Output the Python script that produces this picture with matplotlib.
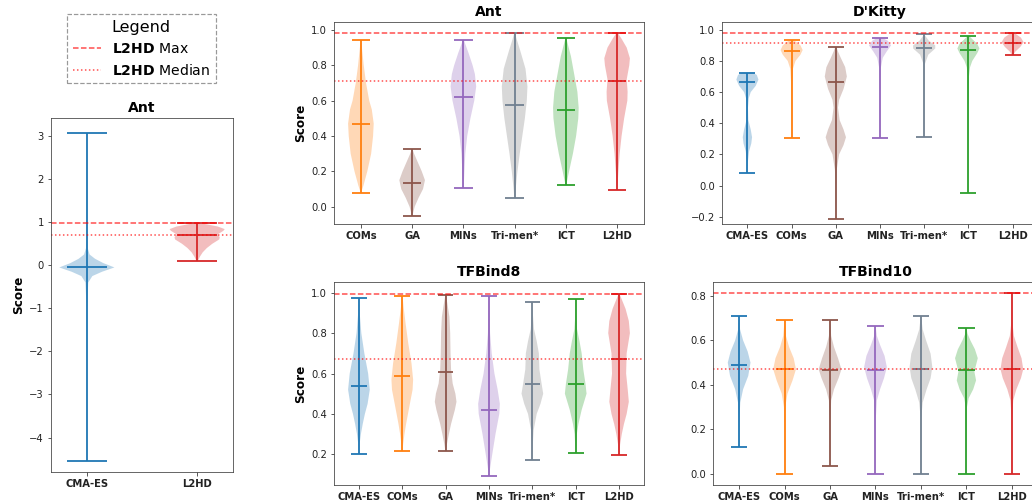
import matplotlib
matplotlib.use("Agg")
import matplotlib.pyplot as plt
from matplotlib.lines import Line2D
from matplotlib.ticker import MultipleLocator
import numpy as np


W, H = 1032, 503

colors = {"CMA-ES": "#1f77b4", "COMs": "#ff7f0e", "GA": "#8c564b", "MINs": "#9467bd",
          "Tri-men*": "#7f7f7f", "ICT": "#2ca02c", "L2HD": "#d62728"}
linecolors = dict(colors)
linecolors["Tri-men*"] = "#708090"

# --- data (min, max, median, density shape as (score, relative width) knots) ---
ant_methods = ["COMs", "GA", "MINs", "Tri-men*", "ICT", "L2HD"]
ant_min = [0.08, -0.05, 0.105, 0.05, 0.12, 0.095]
ant_max = [0.945, 0.325, 0.945, 0.985, 0.955, 0.985]
ant_med = [0.47, 0.135, 0.62, 0.575, 0.545, 0.71]
ant_shape = [
    [(0.08, 0.02), (0.12, 0.2), (0.2, 0.5), (0.3, 0.8), (0.4, 0.95), (0.47, 1.0), (0.55, 0.85),
     (0.6, 0.65), (0.7, 0.4), (0.8, 0.22), (0.9, 0.08), (0.945, 0.02)],
    [(-0.05, 0.02), (0.0, 0.2), (0.05, 0.5), (0.1, 0.85), (0.15, 1.0), (0.2, 0.75), (0.25, 0.45),
     (0.3, 0.15), (0.325, 0.03)],
    [(0.105, 0.02), (0.2, 0.08), (0.3, 0.15), (0.4, 0.3), (0.5, 0.55), (0.6, 0.85), (0.68, 1.0),
     (0.75, 0.9), (0.8, 0.72), (0.87, 0.4), (0.92, 0.15), (0.945, 0.03)],
    [(0.05, 0.02), (0.1, 0.08), (0.2, 0.22), (0.3, 0.4), (0.4, 0.6), (0.5, 0.8), (0.6, 0.95),
     (0.68, 1.0), (0.78, 0.85), (0.88, 0.45), (0.95, 0.15), (0.985, 0.02)],
    [(0.12, 0.02), (0.2, 0.25), (0.3, 0.55), (0.4, 0.8), (0.5, 0.97), (0.56, 1.0), (0.65, 0.9),
     (0.75, 0.65), (0.85, 0.4), (0.92, 0.15), (0.955, 0.03)],
    [(0.095, 0.02), (0.2, 0.1), (0.3, 0.2), (0.4, 0.35), (0.5, 0.55), (0.6, 0.8), (0.65, 0.82),
     (0.72, 0.75), (0.8, 0.95), (0.84, 1.0), (0.9, 0.75), (0.95, 0.35), (0.985, 0.03)],
]

# left panel: CMA-ES vs L2HD on Ant
antcma_methods = ["CMA-ES", "L2HD"]
antcma_min = [-4.55, 0.095]
antcma_max = [3.07, 0.985]
antcma_med = [-0.05, 0.71]
antcma_shape = [
    [(-4.55, 0.005), (-1.0, 0.01), (-0.4, 0.05), (-0.25, 0.2), (-0.15, 0.55), (-0.05, 1.0),
     (0.05, 0.6), (0.15, 0.3), (0.25, 0.1), (0.4, 0.03), (1.0, 0.01), (3.07, 0.005)],
    ant_shape[-1],
]

all_methods = ["CMA-ES", "COMs", "GA", "MINs", "Tri-men*", "ICT", "L2HD"]

dkitty_min = [0.08, 0.305, -0.215, 0.305, 0.31, -0.045, 0.835]
dkitty_max = [0.725, 0.935, 0.89, 0.945, 0.97, 0.96, 0.98]
dkitty_med = [0.665, 0.865, 0.665, 0.89, 0.885, 0.87, 0.915]
dkitty_shape = [
    [(0.08, 0.01), (0.15, 0.04), (0.22, 0.15), (0.27, 0.35), (0.31, 0.42), (0.36, 0.3), (0.42, 0.08),
     (0.5, 0.05), (0.56, 0.12), (0.6, 0.3), (0.64, 0.75), (0.68, 1.0), (0.71, 0.85), (0.725, 0.5)],
    [(0.305, 0.01), (0.5, 0.02), (0.65, 0.04), (0.75, 0.12), (0.8, 0.35), (0.84, 0.8), (0.87, 1.0),
     (0.9, 0.8), (0.92, 0.45), (0.935, 0.15)],
    [(-0.215, 0.01), (0.0, 0.03), (0.1, 0.08), (0.2, 0.3), (0.26, 0.7), (0.31, 0.92), (0.36, 0.7),
     (0.42, 0.35), (0.5, 0.2), (0.55, 0.3), (0.62, 0.7), (0.7, 1.0), (0.76, 0.85), (0.82, 0.45),
     (0.86, 0.2), (0.89, 0.05)],
    [(0.305, 0.01), (0.6, 0.02), (0.75, 0.06), (0.82, 0.25), (0.86, 0.6), (0.9, 1.0), (0.93, 0.7),
     (0.945, 0.3)],
    [(0.31, 0.01), (0.6, 0.02), (0.78, 0.06), (0.84, 0.35), (0.88, 0.95), (0.9, 0.95), (0.93, 0.4),
     (0.96, 0.1), (0.97, 0.03)],
    [(-0.045, 0.01), (0.5, 0.02), (0.7, 0.05), (0.76, 0.15), (0.8, 0.35), (0.85, 0.8), (0.88, 1.0),
     (0.91, 0.8), (0.94, 0.35), (0.96, 0.08)],
    [(0.835, 0.03), (0.86, 0.25), (0.89, 0.7), (0.92, 1.0), (0.95, 0.75), (0.97, 0.35), (0.98, 0.1)],
]

tf8_min = [0.2, 0.215, 0.215, 0.095, 0.17, 0.205, 0.195]
tf8_max = [0.975, 0.985, 0.99, 0.985, 0.955, 0.97, 0.995]
tf8_med = [0.54, 0.59, 0.605, 0.42, 0.55, 0.55, 0.67]
tf8_shape = [
    [(0.2, 0.02), (0.25, 0.06), (0.3, 0.18), (0.35, 0.35), (0.4, 0.55), (0.45, 0.8), (0.52, 1.0),
     (0.6, 0.85), (0.7, 0.5), (0.8, 0.22), (0.9, 0.07), (0.975, 0.02)],
    [(0.215, 0.02), (0.25, 0.08), (0.3, 0.2), (0.35, 0.35), (0.45, 0.7), (0.52, 0.95), (0.57, 1.0),
     (0.65, 0.85), (0.75, 0.55), (0.85, 0.3), (0.93, 0.12), (0.985, 0.02)],
    [(0.215, 0.02), (0.25, 0.12), (0.3, 0.3), (0.35, 0.5), (0.42, 0.85), (0.46, 1.0), (0.5, 0.9),
     (0.55, 0.65), (0.62, 0.5), (0.7, 0.45), (0.8, 0.42), (0.88, 0.35), (0.95, 0.15), (0.99, 0.02)],
    [(0.095, 0.02), (0.13, 0.1), (0.2, 0.3), (0.3, 0.6), (0.4, 0.95), (0.45, 1.0), (0.52, 0.8),
     (0.6, 0.5), (0.7, 0.25), (0.8, 0.1), (0.9, 0.05), (0.985, 0.01)],
    [(0.17, 0.01), (0.25, 0.04), (0.32, 0.12), (0.4, 0.4), (0.45, 0.75), (0.5, 1.0), (0.55, 0.85),
     (0.62, 0.65), (0.7, 0.6), (0.76, 0.4), (0.82, 0.15), (0.9, 0.04), (0.955, 0.01)],
    [(0.205, 0.01), (0.3, 0.1), (0.35, 0.25), (0.42, 0.55), (0.5, 1.0), (0.55, 0.9), (0.62, 0.7),
     (0.7, 0.55), (0.76, 0.35), (0.82, 0.12), (0.9, 0.03), (0.97, 0.01)],
    [(0.195, 0.02), (0.25, 0.1), (0.3, 0.25), (0.35, 0.45), (0.4, 0.7), (0.46, 0.9), (0.52, 0.8),
     (0.6, 0.65), (0.7, 0.7), (0.8, 1.0), (0.86, 0.9), (0.92, 0.6), (0.96, 0.3), (0.995, 0.03)],
]

tf10_min = [0.12, 0.0, 0.035, 0.0, 0.0, 0.0, 0.0]
tf10_max = [0.71, 0.69, 0.69, 0.665, 0.71, 0.655, 0.815]
tf10_med = [0.49, 0.47, 0.465, 0.465, 0.47, 0.465, 0.47]
tf10_shape = [
    [(0.12, 0.01), (0.25, 0.03), (0.32, 0.1), (0.38, 0.35), (0.44, 0.8), (0.5, 1.0), (0.55, 0.75),
     (0.6, 0.35), (0.65, 0.08), (0.71, 0.01)],
    [(0.0, 0.01), (0.2, 0.02), (0.3, 0.06), (0.36, 0.25), (0.42, 0.7), (0.47, 1.0), (0.52, 0.8),
     (0.57, 0.4), (0.62, 0.12), (0.69, 0.01)],
    [(0.035, 0.01), (0.25, 0.03), (0.33, 0.1), (0.38, 0.35), (0.43, 0.75), (0.47, 1.0), (0.52, 0.7),
     (0.57, 0.35), (0.62, 0.1), (0.69, 0.01)],
    [(0.0, 0.01), (0.25, 0.03), (0.33, 0.12), (0.38, 0.4), (0.43, 0.75), (0.48, 1.0), (0.53, 0.8),
     (0.58, 0.4), (0.62, 0.12), (0.665, 0.01)],
    [(0.0, 0.01), (0.25, 0.03), (0.32, 0.15), (0.38, 0.5), (0.43, 0.85), (0.48, 1.0), (0.54, 0.85),
     (0.6, 0.45), (0.65, 0.15), (0.71, 0.01)],
    [(0.0, 0.01), (0.3, 0.05), (0.34, 0.2), (0.38, 0.6), (0.42, 0.85), (0.46, 0.7), (0.5, 0.9),
     (0.52, 1.0), (0.56, 0.75), (0.6, 0.35), (0.63, 0.1), (0.655, 0.01)],
    [(0.0, 0.01), (0.25, 0.03), (0.33, 0.12), (0.38, 0.4), (0.43, 0.8), (0.47, 1.0), (0.52, 0.85),
     (0.57, 0.5), (0.62, 0.18), (0.68, 0.05), (0.815, 0.01)],
]


def px_axes(fig, left, top, right, bottom):
    # axes placed by pixel edges
    return fig.add_axes([left / W, 1 - bottom / H, (right - left) / W, (bottom - top) / H])


def violin_panel(ax, methods, mins, maxs, meds, shapes, title, ylim, step, ylabel=True):
    pos = np.arange(1, len(methods) + 1)
    stats = []
    for lo, hi, md, shp in zip(mins, maxs, meds, shapes):
        knots = np.array(shp)
        stats.append({"coords": knots[:, 0], "vals": knots[:, 1], "mean": md,
                      "median": md, "min": lo, "max": hi})
    parts = ax.violin(stats, positions=pos, widths=0.5, showmeans=False,
                      showextrema=False, showmedians=False)
    for body, m in zip(parts["bodies"], methods):
        body.set_facecolor(colors[m])
        body.set_edgecolor("none")
        body.set_alpha(0.3)
    cap = 0.18
    for p, lo, hi, md, m in zip(pos, mins, maxs, meds, methods):
        c = linecolors[m]
        ax.vlines(p, lo, hi, color=c, lw=1.8)
        ax.hlines([lo, hi, md], p - cap, p + cap, color=c, lw=1.8)

    # reference lines from L2HD
    i = methods.index("L2HD")
    ax.axhline(maxs[i], color="red", ls="--", lw=1.5, alpha=0.7)
    ax.axhline(meds[i], color="red", ls=":", lw=1.5, alpha=0.7)

    ax.set_xticks(pos)
    ax.set_xticklabels(methods, fontweight="bold", fontsize=10)
    # same as the default autoscale margin of a violin plot
    span = (pos[-1] - pos[0]) + 0.5
    ax.set_xlim(pos[0] - 0.25 - 0.05 * span, pos[-1] + 0.25 + 0.05 * span)
    ax.set_ylim(*ylim)
    ax.yaxis.set_major_locator(MultipleLocator(step))
    ax.tick_params(labelsize=10, color="#333333", labelcolor="#222222")
    ax.set_title(title, fontweight="bold", fontsize=14)
    if ylabel:
        ax.set_ylabel("Score", fontweight="bold", fontsize=12)
    for s in ax.spines.values():
        s.set_color("#444444")


fig = plt.figure(figsize=(W / 72, H / 72), dpi=72)

ax0 = px_axes(fig, 51, 118, 233, 472)
violin_panel(ax0, antcma_methods, antcma_min, antcma_max, antcma_med, antcma_shape,
             "Ant", (-4.8, 3.42), 1)

ax1 = px_axes(fig, 334, 22, 644, 224)
violin_panel(ax1, ant_methods, ant_min, ant_max, ant_med, ant_shape, "Ant", (-0.098, 1.045), 0.2)

ax2 = px_axes(fig, 722, 22, 1038, 224)
violin_panel(ax2, all_methods, dkitty_min, dkitty_max, dkitty_med, dkitty_shape,
             "D'Kitty", (-0.247, 1.05), 0.2, ylabel=False)

ax3 = px_axes(fig, 334, 282, 644, 485)
violin_panel(ax3, all_methods, tf8_min, tf8_max, tf8_med, tf8_shape, "TFBind8", (0.048, 1.053), 0.2)

ax4 = px_axes(fig, 713, 282, 1038, 485)
violin_panel(ax4, all_methods, tf10_min, tf10_max, tf10_med, tf10_shape,
             "TFBind10", (-0.051, 0.863), 0.2, ylabel=False)

handles = [Line2D([], [], color="red", ls="--", lw=1.5, alpha=0.7),
           Line2D([], [], color="red", ls=":", lw=1.5, alpha=0.7)]
labels = [r"$\mathbf{L2HD}$ Max", r"$\mathbf{L2HD}$ Median"]
leg = fig.legend(handles, labels, title="Legend", loc="upper left",
                 bbox_to_anchor=(67 / W, 1 - 14 / H), borderaxespad=0,
                 fontsize=14, title_fontsize=16, fancybox=False)
frame = leg.get_frame()
frame.set_edgecolor("gray")
frame.set_linestyle("--")
frame.set_linewidth(1.2)

fig.savefig("out.png", dpi=72)
